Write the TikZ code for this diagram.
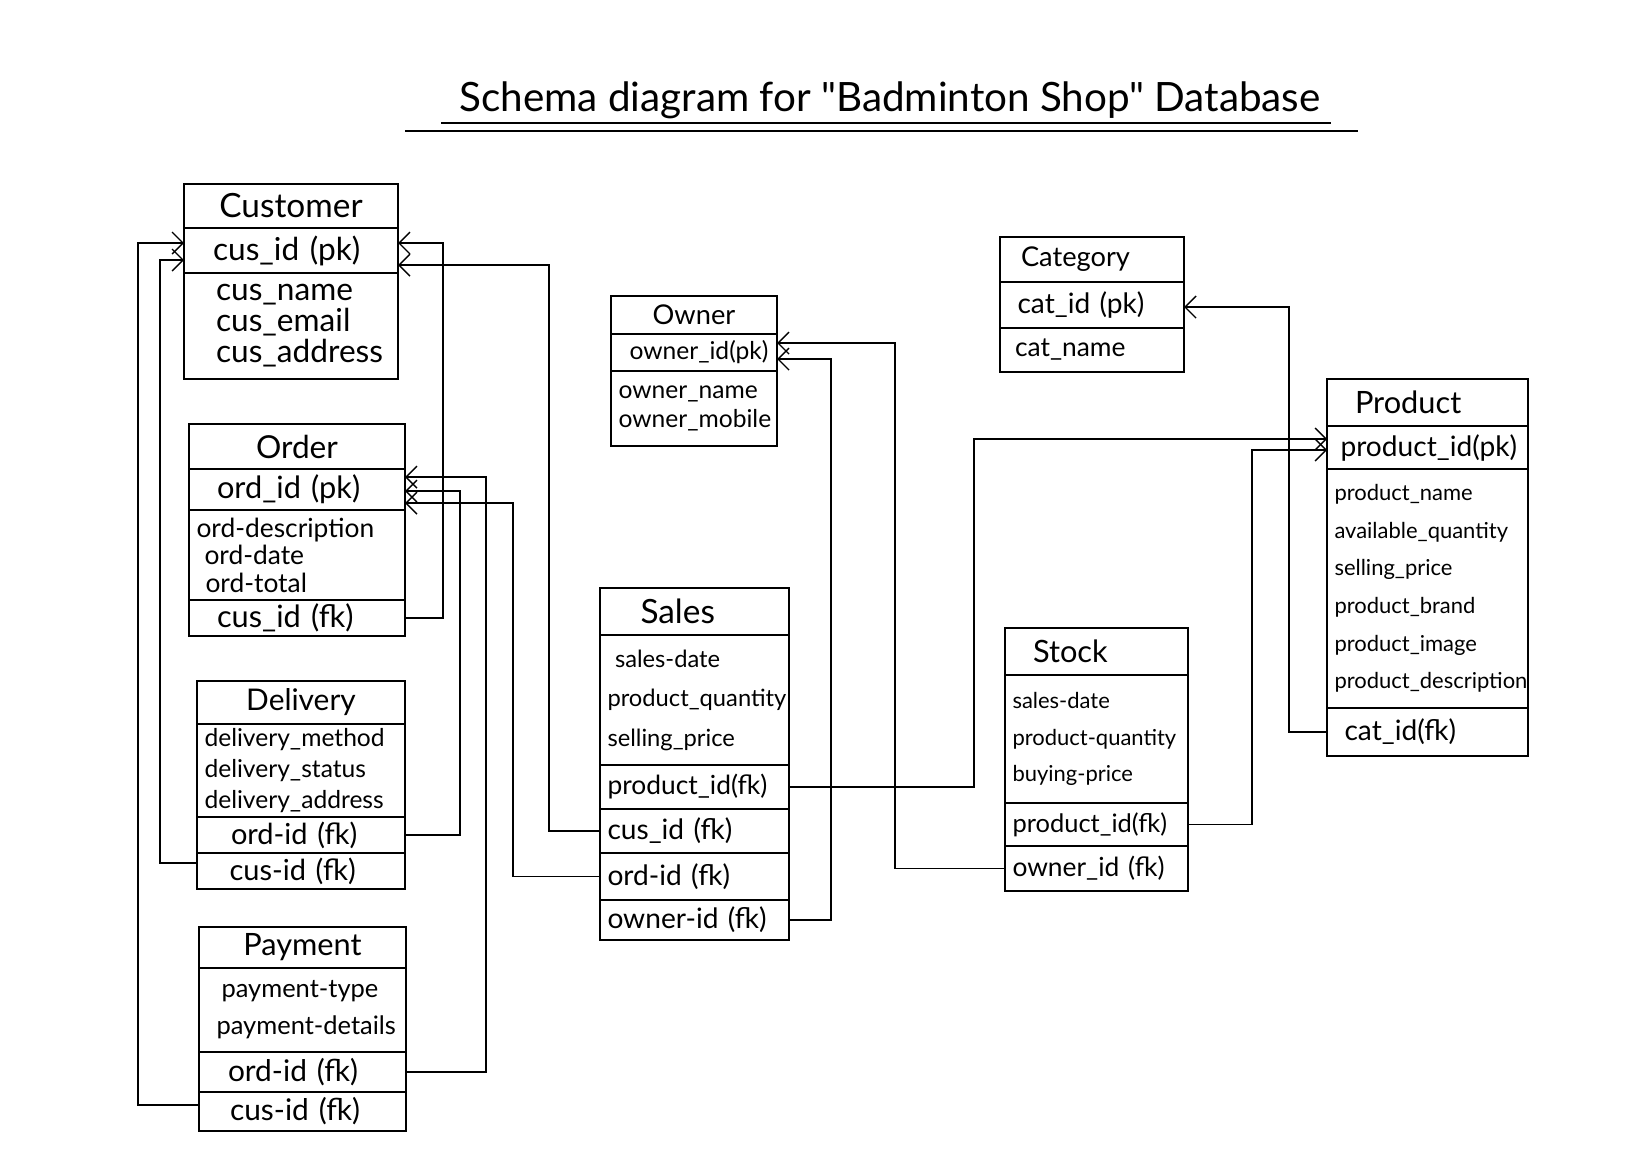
\documentclass[tikz,border=0pt]{standalone}
\usepackage{fontspec}
\setmainfont{Lato}[Ligatures=TeXOff]
\usetikzlibrary{positioning,arrows.meta}
\newcommand{\fz}[2]{\fontsize{#1}{#2}\selectfont}
\newcommand{\ind}[1]{\hspace*{#1mm}}
\tikzset{
  tbl/.style={draw, line width=0.9pt, inner xsep=1.5mm, inner ysep=0pt, outer sep=0pt},
  hdr/.style={tbl, align=center},
  row/.style={tbl, align=left},
  link/.style={line width=0.8pt, -{Straight Barb[length=2.2mm,width=4.4mm]}},
}

\begin{document}
\begin{tikzpicture}[x=0.2mm, y=-0.2mm]
\useasboundingbox[fill=white] (0,0) rectangle (1628,1176);

% title
\node[font=\fz{23}{28}] (title) at (890,100) {Schema diagram for "Badminton Shop" Database};
\draw[line width=0.8pt] (441,123) -- (1331,123);
\draw[line width=0.8pt] (405,131) -- (1358,131);

% Customer
\begin{scope}[every node/.append style={text width=39.8mm, font=\fz{18}{17.6}}]
\node[hdr, anchor=north west, minimum height=8.8mm, font=\fz{19}{20}] (cus) at (184,184) {Customer};
\node[row, below=0pt of cus, minimum height=9mm] (cuspk) {\ind{4.3}cus\_id (pk)};
\node[row, below=0pt of cuspk, minimum height=21.2mm] (cusat) {\ind{4.9}cus\_name\\\ind{4.9}cus\_email\\\ind{4.9}cus\_address};
\end{scope}

% Order
\begin{scope}[every node/.append style={text width=40.2mm, font=\fz{17.5}{18}}]
\node[hdr, anchor=north west, minimum height=9mm, font=\fz{18}{20}] (ord) at (189,424) {Order};
\node[row, below=0pt of ord, minimum height=8.2mm] (ordpk) {\ind{4.1}ord\_id (pk)};
\node[row, below=0pt of ordpk, minimum height=18mm, font=\fz{15}{15.6}] (ordat) {ord-description\\\ind{1.6}ord-date\\\ind{1.8}ord-total};
\node[row, below=0pt of ordat, minimum height=7.2mm] (ordfk) {\ind{4.1}cus\_id (fk)};
\end{scope}

% Delivery
\begin{scope}[every node/.append style={text width=38.6mm, font=\fz{16.5}{18}}]
\node[hdr, anchor=north west, minimum height=8.6mm, font=\fz{17}{19}] (del) at (197,681) {Delivery};
\node[row, below=0pt of del, minimum height=18.6mm, font=\fz{14}{17.7}] (delat) {delivery\_method\\delivery\_status\\delivery\_address};
\node[row, below=0pt of delat, minimum height=7.2mm] (delord) {\ind{5.3}ord-id (fk)};
\node[row, below=0pt of delord, minimum height=7.2mm] (delcus) {\ind{5}cus-id (fk)};
\end{scope}

% Payment
\begin{scope}[every node/.append style={text width=38.4mm, font=\fz{17}{18}}]
\node[hdr, anchor=north west, minimum height=8.2mm, font=\fz{17.5}{20}] (pay) at (199,927) {Payment};
\node[row, below=0pt of pay, minimum height=16.8mm, font=\fz{14.5}{21}] (payat) {\ind{3}payment-type\\\ind{2}payment-details};
\node[row, below=0pt of payat, minimum height=8mm] (payord) {\ind{4.3}ord-id (fk)};
\node[row, below=0pt of payord, minimum height=7.8mm] (paycus) {\ind{4.7}cus-id (fk)};
\end{scope}

% Owner
\begin{scope}[every node/.append style={text width=30.2mm, font=\fz{14}{16.5}}]
\node[hdr, anchor=north west, minimum height=7.6mm, font=\fz{15.5}{18}] (own) at (611,296) {Owner};
\node[row, below=0pt of own, minimum height=7.4mm] (ownpk) {\ind{2.2}owner\_id(pk)};
\node[row, below=0pt of ownpk, minimum height=15mm] (ownat) {owner\_name\\owner\_mobile};
\end{scope}

% Sales
\begin{scope}[every node/.append style={text width=34.8mm, font=\fz{16}{18}}]
\node[hdr, anchor=north west, align=left, minimum height=9.4mm, font=\fz{19}{20}] (sal) at (600,588) {\ind{6.6}Sales};
\node[row, below=0pt of sal, minimum height=26mm, font=\fz{13.5}{22.5}] (salat) {\ind{1.5}sales-date\\product\_quantity\\selling\_price};
\node[row, below=0pt of salat, minimum height=8.8mm, font=\fz{15}{18}] (salprod) {product\_id(fk)};
\node[row, below=0pt of salprod, minimum height=8.8mm] (salcus) {cus\_id (fk)};
\node[row, below=0pt of salcus, minimum height=9.4mm] (salord) {ord-id (fk)};
\node[row, below=0pt of salord, minimum height=8mm] (salown) {owner-id (fk)};
\end{scope}

% Category
\begin{scope}[every node/.append style={text width=33.8mm, font=\fz{16}{18}}]
\node[hdr, anchor=north west, align=left, minimum height=9mm, font=\fz{15.5}{18}] (cat) at (1000,237) {\ind{2.7}Category};
\node[row, below=0pt of cat, minimum height=9.2mm] (catpk) {\ind{2}cat\_id (pk)};
\node[row, below=0pt of catpk, minimum height=8.8mm, font=\fz{15}{18}] (catat) {\ind{1.5}cat\_name};
\end{scope}

% Product
\begin{scope}[every node/.append style={text width=37.2mm, font=\fz{16}{18}}]
\node[hdr, anchor=north west, align=left, minimum height=9.4mm, font=\fz{17.5}{20}] (prod) at (1327,379) {\ind{4.1}Product};
\node[row, below=0pt of prod, minimum height=8.6mm] (prodpk) {\ind{1.2}product\_id(pk)};
\node[row, below=0pt of prodpk, minimum height=47.8mm, font=\fz{12.5}{21.4}] (prodat) {product\_name\\available\_quantity\\selling\_price\\product\_brand\\product\_image\\product\_description};
\node[row, below=0pt of prodat, minimum height=9.6mm] (prodfk) {\ind{2}cat\_id(fk)};
\end{scope}

% Stock
\begin{scope}[every node/.append style={text width=33.6mm, font=\fz{15}{18}}]
\node[hdr, anchor=north west, align=left, minimum height=9.4mm, font=\fz{17.5}{20}] (st) at (1005,628) {\ind{4.1}Stock};
\node[row, below=0pt of st, minimum height=25.6mm, font=\fz{12.5}{21}] (stat) {\mbox{sales-date}\\\mbox{product-quantity}\\\mbox{buying-price}};
\node[row, below=0pt of stat, minimum height=8.6mm, font=\fz{14.5}{18}] (stprod) {product\_id(fk)};
\node[row, below=0pt of stprod, minimum height=9mm] (stown) {owner\_id (fk)};
\end{scope}

% links to Customer
\draw[link] ([yshift=1.3mm]paycus.west) -- ++(-61,0) |- ([yshift=1.5mm]cuspk.west);
\draw[link] ([yshift=1.6mm]delcus.west) -- ++(-37,0) |- ([yshift=-1.9mm]cuspk.west);
\draw[link] (ordfk.east) -- ++(38,0) |- ([yshift=1.5mm]cuspk.east);
\draw[link] (salcus.west) -- ++(-51,0) |- ([yshift=-2.9mm]cuspk.east);
% links to Order
\draw[link] (payord.east) -- ++(80,0) |- ([yshift=2.5mm]ordpk.east);
\draw[link] (delord.east) -- ++(55,0) |- ([yshift=-0.3mm]ordpk.east);
\draw[link] (salord.west) -- ++(-87,0) |- ([yshift=-2.7mm]ordpk.east);
% links to Owner
\draw[link] (salown.east) -- ++(42,0) |- ([yshift=-1.3mm]ownpk.east);
\draw[link] (stown.west) -- ++(-110,0) |- ([yshift=1.9mm]ownpk.east);
% links to Product
\draw[link] (salprod.east) -- ++(185,0) |- ([yshift=1.7mm]prodpk.west);
\draw[link] (stprod.east) -- ++(64,0) |- ([yshift=-0.5mm]prodpk.west);
% link to Category
\draw[link] (prodfk.west) -- ++(-38,0) |- ([yshift=-0.4mm]catpk.east);
\end{tikzpicture}
\end{document}
